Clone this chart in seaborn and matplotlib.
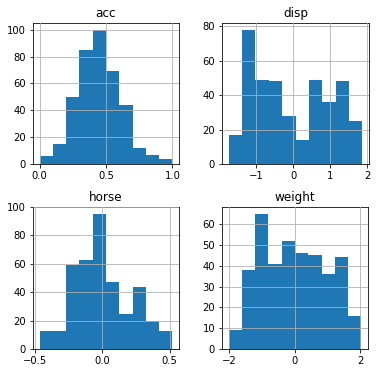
import numpy as np
import pandas as pd
import seaborn as sns
import matplotlib.pyplot as plt

# bin counts (10 bins each, 392 rows)
acc_counts = [6, 15, 50, 85, 100, 69, 44, 12, 7, 4]
acc_range = (0.0, 1.0)
disp_counts = [17, 78, 49, 48, 28, 14, 49, 36, 48, 25]
disp_range = (-1.736, 1.864)
horse_counts = [13, 13, 59, 63, 95, 47, 25, 44, 20, 13]
horse_range = (-0.465, 0.52)
weight_counts = [9, 38, 65, 41, 52, 46, 45, 36, 44, 16]
weight_range = (-2.02, 2.04)

panels = [
    ("acc", acc_counts, acc_range, [0.0, 0.5, 1.0], [0, 20, 40, 60, 80, 100]),
    ("disp", disp_counts, disp_range, [-1, 0, 1, 2], [0, 20, 40, 60, 80]),
    ("horse", horse_counts, horse_range, [-0.5, 0.0, 0.5], [0, 20, 40, 60, 80, 100]),
    ("weight", weight_counts, weight_range, [-2, 0, 2], [0, 10, 20, 30, 40, 50, 60]),
]

W, H = 378, 373
fig = plt.figure(figsize=(W / 72, H / 72), dpi=72)
# axes boxes in pixels: left, top, right, bottom
boxes = [(33, 23, 179, 164), (222, 23, 369, 164),
         (33, 207, 179, 349), (222, 207, 368, 349)]

for (name, counts, rng, xt, yt), (l, t, r, b) in zip(panels, boxes):
    ax = fig.add_axes([l / W, 1 - b / H, (r - l) / W, (b - t) / H])
    edges = np.linspace(rng[0], rng[1], len(counts) + 1)
    df = pd.DataFrame({"x": (edges[:-1] + edges[1:]) / 2, "n": counts})
    sns.histplot(data=df, x="x", weights="n", bins=list(edges), ax=ax,
                 color="#1f77b4", alpha=1, edgecolor="none", linewidth=0)
    ax.set_axisbelow(False)
    ax.grid(True, color="#b0b0b0", linewidth=0.8)
    ax.set_xticks(xt)
    ax.set_yticks(yt)
    ax.set_xlabel("")
    ax.set_ylabel("")
    ax.set_title(name, fontsize=12)
    ax.tick_params(labelsize=10)

fig.savefig("out.png", dpi=72)
